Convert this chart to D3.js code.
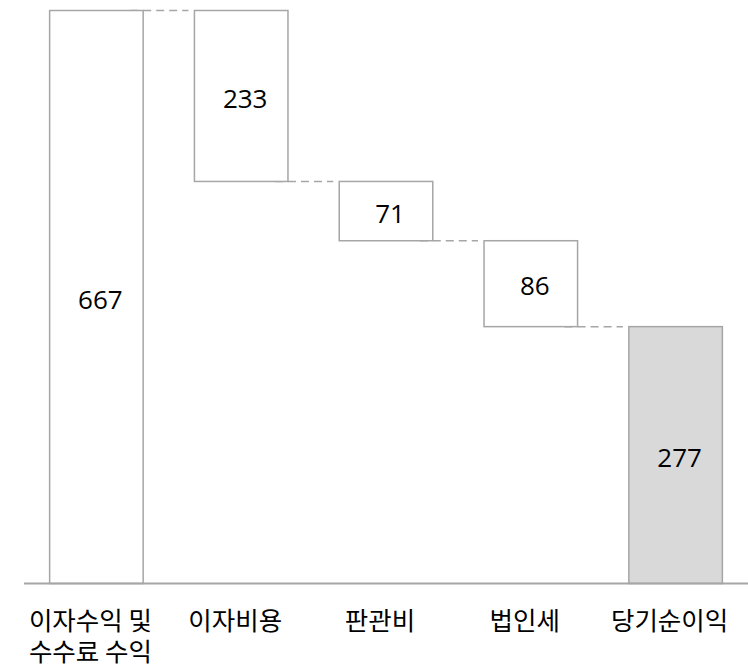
<!DOCTYPE html>
<html>
<head>
<meta charset="utf-8">
<script src="https://cdn.jsdelivr.net/npm/d3@7"></script>
<style>
  body { margin: 0; background: #fff; }
  .cat { font-family: "Noto Sans CJK KR", sans-serif; font-size: 25.5px; fill: #000; }
  .num { font-family: "Open Sans", sans-serif; font-size: 26px; fill: #000; }
</style>
</head>
<body>
<script>
var categories = ["이자수익 및|수수료 수익", "이자비용", "판관비", "법인세", "당기순이익"];
// bar heights as drawn in the picture (not proportional to the printed labels)
var barValues = [667, 199, 69, 100, 299];
var barLabels = ["667", "233", "71", "86", "277"];
// "total" bars start at zero, "step" bars hang from the previous level
var barKinds = ["total", "step", "step", "step", "total"];

var width = 748, height = 666;
var baseY = 583.5, topY = 10.5;

var svg = d3.select('body').append('svg').attr('width', width).attr('height', height);

var x = d3.scaleBand()
    .domain(categories)
    .range([24, 748])
    .paddingInner(0.354)
    .paddingOuter(0.177);

var y = d3.scaleLinear()
    .domain([0, barValues[0]])
    .range([baseY, topY]);

// build waterfall spans
var level = 0;
var bars = [];
for (var i = 0; i < categories.length; i++) {
    var lo, hi;
    if (barKinds[i] == "total") {
        lo = 0; hi = barValues[i];
        level = barValues[i];
    } else {
        hi = level; lo = level - barValues[i];
        level = lo;
    }
    bars.push({cat: categories[i], lo: lo, hi: hi, label: barLabels[i], kind: barKinds[i], idx: i});
}

// connector lines
for (var i = 0; i < bars.length - 1; i++) {
    var lvl = bars[i].kind == "total" ? bars[i].hi : bars[i].lo;
    svg.append("line")
        .attr("x1", x(bars[i].cat) + x.bandwidth() - 13)
        .attr("x2", x(bars[i + 1].cat) - 6)
        .attr("y1", y(lvl))
        .attr("y2", y(lvl))
        .attr("stroke", "#a6a6a6")
        .attr("stroke-width", 1.5)
        .style("stroke-dasharray", ("8, 5"));
}

svg.selectAll("rect.bar").data(bars).enter()
    .append("rect")
    .attr("class", "bar")
    .attr("x", function (d) { return x(d.cat); })
    .attr("y", function (d) { return y(d.hi); })
    .attr("width", x.bandwidth())
    .attr("height", function (d) { return y(d.lo) - y(d.hi); })
    .attr("fill", function (d) { return d.idx == bars.length - 1 ? "#d9d9d9" : "#ffffff"; })
    .attr("stroke", "#a6a6a6")
    .attr("stroke-width", 1.5);

svg.selectAll("text.num").data(bars).enter()
    .append("text")
    .attr("class", "num")
    .attr("text-anchor", "middle")
    .attr("x", function (d) { return x(d.cat) + x.bandwidth() / 2 + 4; })
    .attr("y", function (d) { return (y(d.lo) + y(d.hi)) / 2 + 11.8; })
    .text(function (d) { return d.label; });

// baseline axis
svg.append("line")
    .attr("x1", 24).attr("x2", 748)
    .attr("y1", baseY).attr("y2", baseY)
    .attr("stroke", "#a6a6a6")
    .attr("stroke-width", 2);

// category labels (may wrap on '|')
var cats = svg.selectAll("text.cat").data(categories).enter()
    .append("text")
    .attr("class", "cat")
    .attr("text-anchor", "middle")
    .attr("x", function (d) { return x(d) + x.bandwidth() / 2 - 6; })
    .attr("y", 629.5);

cats.each(function (d) {
    var parts = d.split("|");
    var t = d3.select(this);
    for (var k = 0; k < parts.length; k++) {
        t.append("tspan")
            .attr("x", t.attr("x"))
            .attr("dy", k == 0 ? 0 : 31)
            .text(parts[k]);
    }
});
</script>
</body>
</html>
